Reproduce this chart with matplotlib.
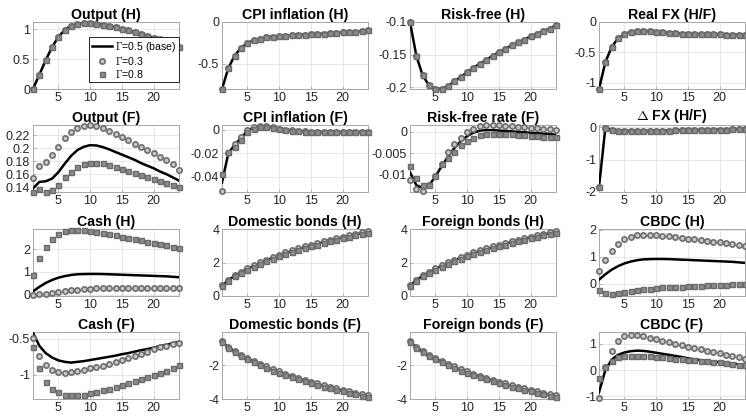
import matplotlib
matplotlib.use("Agg")
import matplotlib.pyplot as plt
import numpy as np

plt.rcParams.update({"font.family": ["Liberation Sans", "DejaVu Sans"], "mathtext.fontset": "cm",
                     "font.size": 9})

t = np.arange(1, 25)

# impulse responses: base (Gamma=0.5), low (Gamma=0.3), high (Gamma=0.8)
out_h = [0.0, 0.24, 0.48, 0.7, 0.87, 0.99, 1.06, 1.09, 1.1, 1.1, 1.09, 1.07, 1.05, 1.03, 1.0, 0.98,
         0.95, 0.92, 0.89, 0.86, 0.83, 0.8, 0.76, 0.71]
cpi_h = [-0.8, -0.55, -0.4, -0.31, -0.25, -0.22, -0.2, -0.185, -0.175, -0.17, -0.165, -0.16, -0.155,
         -0.15, -0.148, -0.145, -0.14, -0.135, -0.13, -0.125, -0.12, -0.115, -0.11, -0.1]
rf_h = [-0.1, -0.152, -0.182, -0.197, -0.2025, -0.2025, -0.198, -0.191, -0.184, -0.177, -0.17, -0.164,
        -0.158, -0.152, -0.146, -0.141, -0.136, -0.131, -0.127, -0.122, -0.118, -0.114, -0.11, -0.105]
rfx = [-1.1, -0.66, -0.41, -0.27, -0.2, -0.16, -0.15, -0.15, -0.15, -0.16, -0.17, -0.18, -0.185, -0.19,
       -0.195, -0.2, -0.2, -0.2, -0.205, -0.205, -0.21, -0.21, -0.21, -0.21]

out_f = [0.138, 0.148, 0.149, 0.153, 0.163, 0.176, 0.188, 0.197, 0.202, 0.2045, 0.204, 0.2015, 0.198,
         0.194, 0.19, 0.186, 0.182, 0.177, 0.173, 0.169, 0.164, 0.16, 0.155, 0.15]
out_f_lo = [0.1535, 0.172, 0.178, 0.189, 0.202, 0.2155, 0.224, 0.231, 0.2345, 0.2355, 0.234, 0.231,
            0.227, 0.222, 0.217, 0.212, 0.207, 0.202, 0.197, 0.192, 0.187, 0.181, 0.175, 0.167]
out_f_hi = [0.1327, 0.137, 0.133, 0.136, 0.144, 0.155, 0.164, 0.1705, 0.176, 0.1775, 0.1775, 0.1765,
            0.174, 0.171, 0.168, 0.165, 0.162, 0.159, 0.156, 0.153, 0.15, 0.147, 0.1435, 0.14]

cpi_f = [-0.045, -0.02, -0.013, -0.007, -0.001, 0.002, 0.003, 0.0025, 0.002, 0.001, 0.0, -0.0005,
         -0.001, -0.0015, -0.002, -0.002, -0.002, -0.002, -0.002, -0.002, -0.002, -0.002, -0.002, -0.002]
cpi_f_lo = [-0.0525, -0.02, -0.012, -0.006, 0.0, 0.002, 0.0033, 0.003, 0.002, 0.001, 0.0, -0.0005,
            -0.001, -0.0015, -0.002, -0.002, -0.002, -0.002, -0.002, -0.002, -0.002, -0.002, -0.002, -0.002]
cpi_f_hi = [-0.038, -0.019, -0.015, -0.009, -0.002, 0.001, 0.0025, 0.002, 0.0015, 0.0005, -0.0003,
            -0.001, -0.0015, -0.002, -0.002, -0.002, -0.002, -0.002, -0.002, -0.002, -0.002, -0.002,
            -0.002, -0.002]

rf_f = [-0.0095, -0.0125, -0.0132, -0.0125, -0.0105, -0.008, -0.0058, -0.0038, -0.0022, -0.001,
        -0.0002, 0.0003, 0.0004, 0.0004, 0.0003, 0.0002, 0.0001, 0.0, -0.0001, -0.0002, -0.0003,
        -0.0004, -0.0005, -0.0007]
rf_f_lo = [-0.0112, -0.0135, -0.0138, -0.0125, -0.0104, -0.0075, -0.0048, -0.0028, -0.0014, -0.0001,
           0.0007, 0.0013, 0.0015, 0.0015, 0.0015, 0.0014, 0.0013, 0.0012, 0.0011, 0.001, 0.0008,
           0.0007, 0.0006, 0.0005]
rf_f_hi = [-0.0079, -0.0108, -0.0124, -0.0124, -0.0104, -0.0075, -0.0062, -0.0047, -0.0032, -0.0022,
           -0.0014, -0.0008, -0.0005, -0.0004, -0.0004, -0.0005, -0.0006, -0.0007, -0.0008, -0.0009,
           -0.001, -0.0011, -0.0012, -0.0013]

dfx = [-1.85, -0.02, -0.08, -0.1, -0.11, -0.11, -0.11, -0.11, -0.11, -0.105, -0.1, -0.1, -0.095,
       -0.09, -0.09, -0.085, -0.08, -0.08, -0.075, -0.07, -0.07, -0.065, -0.06, -0.06]

cash_h = [0.15, 0.35, 0.52, 0.65, 0.75, 0.82, 0.87, 0.9, 0.91, 0.915, 0.915, 0.91, 0.9, 0.89, 0.88,
          0.87, 0.86, 0.85, 0.84, 0.83, 0.82, 0.81, 0.79, 0.77]
cash_h_lo = [0.0, 0.02, 0.05, 0.09, 0.13, 0.17, 0.2, 0.23, 0.25, 0.27, 0.28, 0.29, 0.3, 0.3, 0.31,
             0.31, 0.31, 0.31, 0.32, 0.32, 0.32, 0.32, 0.32, 0.32]
cash_h_hi = [0.85, 1.6, 2.1, 2.45, 2.65, 2.78, 2.83, 2.85, 2.84, 2.8, 2.76, 2.72, 2.67, 2.61, 2.55,
             2.5, 2.44, 2.39, 2.33, 2.27, 2.22, 2.16, 2.11, 2.05]

bonds_h = [0.62, 0.95, 1.2, 1.42, 1.62, 1.8, 1.97, 2.13, 2.28, 2.42, 2.55, 2.68, 2.8, 2.91, 3.02,
           3.12, 3.22, 3.32, 3.41, 3.5, 3.59, 3.67, 3.75, 3.83]
bonds_h_lo = [0.64, 0.97, 1.23, 1.45, 1.66, 1.84, 2.01, 2.17, 2.32, 2.46, 2.6, 2.73, 2.85, 2.96, 3.07,
              3.17, 3.27, 3.37, 3.46, 3.55, 3.64, 3.72, 3.8, 3.88]
bonds_h_hi = [0.6, 0.92, 1.17, 1.38, 1.57, 1.75, 1.92, 2.08, 2.23, 2.37, 2.5, 2.63, 2.75, 2.86, 2.97,
              3.07, 3.17, 3.27, 3.36, 3.45, 3.54, 3.62, 3.7, 3.78]

cbdc_h = [0.15, 0.35, 0.52, 0.65, 0.75, 0.82, 0.87, 0.9, 0.91, 0.915, 0.915, 0.91, 0.9, 0.89, 0.88,
          0.87, 0.86, 0.85, 0.84, 0.83, 0.82, 0.81, 0.79, 0.77]
cbdc_h_lo = [0.48, 0.88, 1.2, 1.45, 1.64, 1.73, 1.79, 1.81, 1.81, 1.8, 1.78, 1.75, 1.73, 1.69, 1.66,
             1.64, 1.6, 1.58, 1.55, 1.53, 1.5, 1.47, 1.43, 1.38]
cbdc_h_hi = [-0.23, -0.33, -0.36, -0.34, -0.3, -0.27, -0.23, -0.2, -0.18, -0.16, -0.13, -0.12, -0.11,
             -0.1, -0.09, -0.08, -0.07, -0.06, -0.05, -0.04, -0.03, -0.02, -0.01, 0.01]

cash_f = [-0.42, -0.6, -0.7, -0.76, -0.8, -0.82, -0.83, -0.82, -0.81, -0.795, -0.78, -0.765, -0.75,
          -0.735, -0.715, -0.7, -0.68, -0.66, -0.645, -0.625, -0.605, -0.585, -0.565, -0.545]
cash_f_lo = [-0.49, -0.74, -0.86, -0.93, -0.965, -0.975, -0.965, -0.95, -0.93, -0.91, -0.89, -0.87,
             -0.85, -0.82, -0.79, -0.77, -0.74, -0.71, -0.68, -0.65, -0.62, -0.6, -0.58, -0.565]
cash_f_hi = [-0.61, -0.91, -1.09, -1.19, -1.24, -1.27, -1.28, -1.28, -1.27, -1.25, -1.23, -1.21,
             -1.19, -1.16, -1.14, -1.11, -1.08, -1.06, -1.03, -1.0, -0.97, -0.94, -0.91, -0.86]

bonds_f = [-b for b in bonds_h]
bonds_f_lo = [-b for b in bonds_h_hi]
bonds_f_hi = [-b for b in bonds_h_lo]

cbdc_f = [-0.85, 0.0, 0.4, 0.58, 0.67, 0.72, 0.74, 0.73, 0.7, 0.66, 0.62, 0.58, 0.54, 0.5, 0.45,
          0.41, 0.38, 0.35, 0.32, 0.3, 0.27, 0.25, 0.22, 0.19]
cbdc_f_lo = [-1.05, 0.1, 0.73, 1.12, 1.28, 1.34, 1.33, 1.28, 1.23, 1.18, 1.12, 1.06, 1.01, 0.95, 0.89,
             0.84, 0.79, 0.74, 0.69, 0.64, 0.59, 0.54, 0.48, 0.42]
cbdc_f_hi = [-0.29, 0.13, 0.34, 0.48, 0.52, 0.54, 0.54, 0.53, 0.52, 0.5, 0.48, 0.46, 0.44, 0.42, 0.4,
             0.38, 0.36, 0.34, 0.31, 0.29, 0.26, 0.24, 0.21, 0.19]

panels = [
    ("Output (H)", out_h, out_h, out_h, (0, 1.12), [0, 0.5, 1]),
    ("CPI inflation (H)", cpi_h, cpi_h, cpi_h, (-0.8, 0), [-0.5, 0]),
    ("Risk-free (H)", rf_h, rf_h, rf_h, (-0.2027, -0.1), [-0.2, -0.15, -0.1]),
    ("Real FX (H/F)", rfx, rfx, rfx, (-1.1, 0), [-1, -0.5, 0]),
    ("Output (F)", out_f, out_f_lo, out_f_hi, (0.1325, 0.2355), [0.14, 0.16, 0.18, 0.2, 0.22]),
    ("CPI inflation (F)", cpi_f, cpi_f_lo, cpi_f_hi, (-0.053, 0.004), [-0.04, -0.02, 0]),
    ("Risk-free rate (F)", rf_f, rf_f_lo, rf_f_hi, (-0.0141, 0.0016), [-0.01, -0.005, 0]),
    (r"$\Delta$ FX (H/F)", dfx, dfx, dfx, (-2, 0.07), [-2, -1, 0]),
    ("Cash (H)", cash_h, cash_h_lo, cash_h_hi, (-0.05, 2.88), [0, 1, 2]),
    ("Domestic bonds (H)", bonds_h, bonds_h_lo, bonds_h_hi, (0, 4), [0, 2, 4]),
    ("Foreign bonds (H)", bonds_h, bonds_h_lo, bonds_h_hi, (0, 4), [0, 2, 4]),
    ("CBDC (H)", cbdc_h, cbdc_h_lo, cbdc_h_hi, (-0.45, 2.02), [0, 1, 2]),
    ("Cash (F)", cash_f, cash_f_lo, cash_f_hi, (-1.33, -0.41), [-1, -0.5]),
    ("Domestic bonds (F)", bonds_f, bonds_f_lo, bonds_f_hi, (-4, -0.05), [-4, -2]),
    ("Foreign bonds (F)", bonds_f, bonds_f_lo, bonds_f_hi, (-4, -0.05), [-4, -2]),
    ("CBDC (F)", cbdc_f, cbdc_f_lo, cbdc_f_hi, (-1.1, 1.45), [-1, 0, 1]),
]

W, H = 746, 416
fig = plt.figure(figsize=(W / 100, H / 100), dpi=100)
lefts = [33, 222, 410, 599]
bottoms = [89, 192, 296, 399]
aw, ah = 146, 67

for i, (title, base, lo, hi, ylim, yt) in enumerate(panels):
    r, c = divmod(i, 4)
    ax = fig.add_axes([lefts[c] / W, 1 - bottoms[r] / H, aw / W, ah / H])
    ax.plot(t, base, "-", color="black", lw=1.8, label=r"$\Gamma$=0.5 (base)", zorder=3)
    ax.plot(t, lo, "o", ls="none", ms=3.8, mfc="#c8c8c8", mec="#6e6e6e", mew=1.2,
            label=r"$\Gamma$=0.3", zorder=4, clip_on=False)
    ax.plot(t, hi, "s", ls="none", ms=3.6, mfc="#8c8c8c", mec="#6a6a6a", mew=1.0,
            label=r"$\Gamma$=0.8", zorder=4, clip_on=False)
    ax.set_xlim(1, 24)
    ax.set_ylim(*ylim)
    ax.set_xticks([5, 10, 15, 20])
    ax.set_yticks(yt)
    ax.yaxis.set_major_formatter(matplotlib.ticker.FuncFormatter(lambda v, p: f"{v:g}"))
    ax.grid(True, color="#e3e3e3", lw=0.6)
    ax.set_axisbelow(True)
    for s in ax.spines.values():
        s.set_color("#a8a8a8")
        s.set_linewidth(0.7)
    ax.tick_params(direction="in", length=2.5, width=0.6, color="#a8a8a8", labelsize=9,
                   labelcolor="#262626", pad=2)
    ax.set_title(title, fontsize=10.2, fontweight="bold", pad=2)
    if i == 0:
        leg = ax.legend(loc="lower right", bbox_to_anchor=(1.0, 0.1), fontsize=7.6, fancybox=False,
                        edgecolor="#262626", framealpha=1, borderpad=0.25, labelspacing=0.1,
                        handlelength=1.9, handletextpad=0.3, borderaxespad=0.0)
        leg.get_frame().set_linewidth(0.7)
        leg.set_zorder(10)

fig.savefig("out.png", dpi=100)
